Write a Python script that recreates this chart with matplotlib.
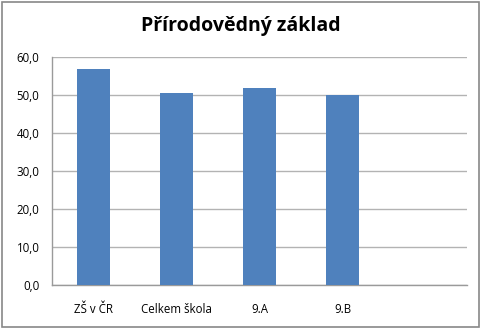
import matplotlib
matplotlib.use("Agg")
import matplotlib.pyplot as plt
from matplotlib.patches import Rectangle
from matplotlib.ticker import FuncFormatter

categories = ["ZŠ v ČR", "Celkem škola", "9.A", "9.B", ""]
values = [56.8, 50.6, 51.8, 49.9, None]
title = "Přírodovědný základ"
yticks = [0, 10, 20, 30, 40, 50, 60]

plt.rcParams['font.family'] = ['Open Sans', 'DejaVu Sans']

fig = plt.figure(figsize=(4.82, 3.28), dpi=100)
ax = fig.add_axes([0.108, 0.132, 0.861, 0.694])

xs = list(range(len(categories)))
bx = [x for x, v in zip(xs, values) if v is not None]
bv = [v for v in values if v is not None]
ax.bar(bx, bv, width=0.4, color="#4F81BD", zorder=3)

ax.set_xlim(-0.5, len(categories) - 0.5)
ax.set_ylim(0, 60)
ax.set_yticks(yticks)
ax.yaxis.set_major_formatter(FuncFormatter(lambda v, p: f"{v:.1f}".replace(".", ",")))
ax.set_xticks(xs)
ax.set_xticklabels(categories)
ax.tick_params(axis="both", length=0, labelsize=8.3, colors="black")
ax.tick_params(axis="x", pad=13)
ax.tick_params(axis="y", pad=9)
ax.grid(axis="y", color="#b3b3b3", linewidth=1, zorder=0)
for s in ["top", "right"]:
    ax.spines[s].set_visible(False)
for s in ["left", "bottom"]:
    ax.spines[s].set_color("#9a9a9a")
    ax.spines[s].set_linewidth(1)

fig.text(0.5, 0.92, title, ha="center", va="center", fontsize=14, fontweight="bold")

fig.patches.append(Rectangle((0.004, 0.004), 0.99, 0.99, transform=fig.transFigure,
                             fill=False, edgecolor="#888888", linewidth=1.2))

fig.savefig("out.png", dpi=100)
